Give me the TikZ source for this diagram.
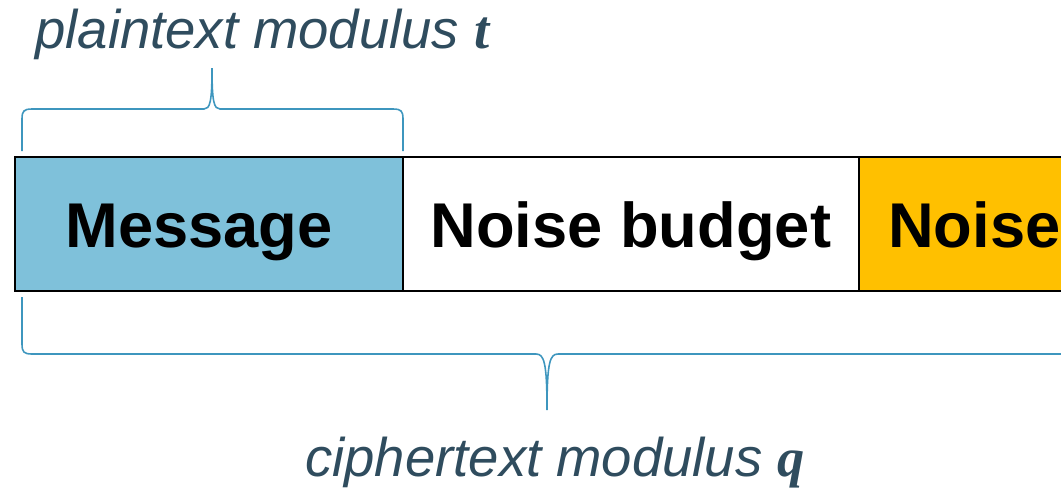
\documentclass[tikz,border=0pt]{standalone}
\usepackage{fontspec}
\setmainfont{Liberation Sans}
\newfontfamily\modfont{Liberation Serif}
\usepackage{xcolor}
\usepackage{tikz}
\usetikzlibrary{positioning}

\definecolor{msgblue}{RGB}{127,193,218}
\definecolor{noiseorange}{RGB}{255,192,0}
\definecolor{bracecol}{RGB}{62,150,190}
\definecolor{labelcol}{RGB}{47,76,94}

\begin{document}
\begin{tikzpicture}[
    x=0.02cm, y=-0.02cm,
    segment/.style={rectangle, draw, line width=1.2pt, inner sep=0pt, outer sep=0pt,
      minimum height=2.68cm, font=\fontsize{36}{40}\selectfont\bfseries,
      text height=27pt, text depth=0pt},
    bracket/.style={draw=bracecol, line width=0.9pt},
    modlabel/.style={font=\fontsize{31}{36}\selectfont\itshape, text=labelcol,
      inner sep=0pt, anchor=base west}
  ]
  \useasboundingbox (0,0) rectangle (1061,491);
  \clip (0,0) rectangle (1061,491);

  % the three parts of the ciphertext
  \node[segment, fill=msgblue, minimum width=7.76cm, anchor=north west] (msg) at (15,157) {\hspace*{-0.4cm}Message};
  \node[segment, fill=white, minimum width=9.12cm, right=0pt of msg] (budget) {Noise budget};
  \node[segment, fill=noiseorange, minimum width=4.62cm, right=0pt of budget] (noise) {Noise};

  % braces
  \draw[bracket] (22,151) -- (22,119) .. controls (22,111) and (24,109) .. (32,109)
    -- (204,109) .. controls (210,109) and (212,102) .. (212,68)
    .. controls (212,102) and (214,109) .. (220,109)
    -- (393,109) .. controls (401,109) and (403,111) .. (403,119) -- (403,151);
  \draw[bracket] (22,297) -- (22,344) .. controls (22,352) and (24,354) .. (32,354)
    -- (536,354) .. controls (544,354) and (547,362) .. (547,410)
    .. controls (547,362) and (550,354) .. (558,354)
    -- (1062,354) .. controls (1070,354) and (1072,352) .. (1072,344) -- (1072,297);

  % labels
  \node[modlabel] (tlabel) at (35,48) {plaintext modulus {\modfont\bfseries t}};
  \node[modlabel] (qlabel) at (305,476) {ciphertext modulus {\modfont\bfseries q}};
\end{tikzpicture}
\end{document}
